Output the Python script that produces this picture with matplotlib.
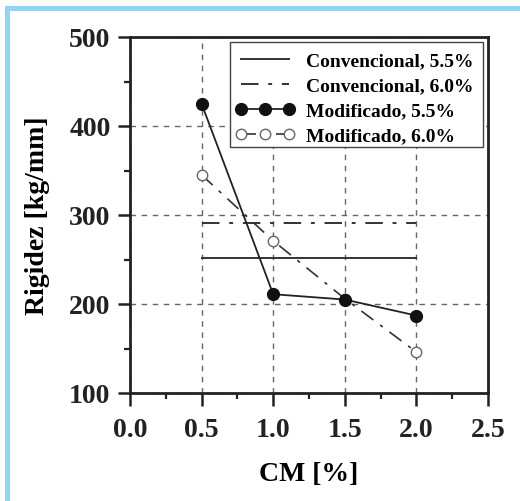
import matplotlib
matplotlib.use("Agg")
import matplotlib.pyplot as plt
from matplotlib.patches import Rectangle
from matplotlib.ticker import MultipleLocator

# Data
cm = [0.5, 1.0, 1.5, 2.0]
mod_55 = [425, 211, 205, 187]
mod_60 = [345, 271, 206, 146]
conv_55 = 252
conv_60 = 291
conv_x = [0.5, 2.0]

labels = ["Convencional, 5.5%", "Convencional, 6.0%", "Modificado, 5.5%", "Modificado, 6.0%"]
xticks = [0.0, 0.5, 1.0, 1.5, 2.0, 2.5]
yticks = [100, 200, 300, 400, 500]

plt.rcParams['font.family'] = ['Liberation Serif', 'DejaVu Serif']
plt.rcParams['font.weight'] = 'bold'

W, H = 520, 502
fig = plt.figure(figsize=(W/100, H/100), dpi=100)

# light blue frame
blue = '#8fd5f5'
fig.add_artist(Rectangle((5/W, (H-12)/H), 1, 5/H, transform=fig.transFigure, color=blue, lw=0))
fig.add_artist(Rectangle((5/W, -0.01), 5/W, (H-7)/H + 0.01, transform=fig.transFigure, color=blue, lw=0))

ax = fig.add_axes([130/W, (H-394)/H, (488-130)/W, (394-38)/H])

dashdot = (0, (9, 5, 2, 5))
ax.plot(conv_x, [conv_55]*2, color='#333333', lw=1.4, ls='-', label=labels[0])
ax.plot(conv_x, [conv_60]*2, color='#333333', lw=1.4, ls=dashdot, label=labels[1])
ax.plot(cm, mod_60, color='#333333', lw=1.2, ls=dashdot, marker='o', ms=7.5,
        mfc='white', mec='#666666', mew=1.0, label=labels[3], zorder=3)
ax.plot(cm, mod_55, color='#222222', lw=1.3, ls='-', marker='o', ms=8.5,
        mfc='#111111', mec='#111111', label=labels[2], zorder=4)

ax.set_xlim(0, 2.5)
ax.set_ylim(100, 500)
ax.set_xticks(xticks)
ax.set_yticks(yticks)
ax.set_xticklabels([f"{v:.1f}" for v in xticks])
ax.set_yticklabels([str(v) for v in yticks])
ax.xaxis.set_minor_locator(MultipleLocator(0.25))
ax.yaxis.set_minor_locator(MultipleLocator(50))
ax.tick_params(which='major', direction='out', length=9, width=1.8, labelsize=20, pad=5, colors='#222222')
ax.tick_params(which='minor', direction='out', length=4.5, width=1.6, colors='#222222')
ax.tick_params(axis='x', which='major', pad=8)
for lab in ax.get_xticklabels() + ax.get_yticklabels():
    lab.set_fontweight('bold')
for s in ax.spines.values():
    s.set_linewidth(2.0)
    s.set_color('#222222')

ax.grid(True, which='major', color='#666666', ls=(0, (4, 4)), lw=1.0)
ax.set_axisbelow(True)

ax.set_xlabel("CM [%]", fontsize=20, fontweight='bold', labelpad=14)
ax.set_ylabel("Rigidez [kg/mm]", fontsize=20, fontweight='bold', labelpad=14)

# legend frame drawn separately to match the reference box
frame = Rectangle((230/W, (H-148)/H), 253/W, 105/H, transform=fig.transFigure,
                  facecolor='white', edgecolor='#444444', lw=1.0, zorder=5, clip_on=False)
ax.add_patch(frame)

handles, labs = ax.get_legend_handles_labels()
order = [labs.index(l) for l in labels]
leg = ax.legend([handles[i] for i in order], [labs[i] for i in order],
                loc='upper left', bbox_to_anchor=(231/W, (H-49)/H),
                bbox_transform=fig.transFigure,
                prop={'weight': 'bold', 'size': 14},
                frameon=False, handlelength=3.1, handletextpad=0.55, numpoints=3,
                borderaxespad=0.0, borderpad=0.2, labelspacing=0.38)
leg.set_zorder(6)

fig.savefig("out.png", dpi=100)
